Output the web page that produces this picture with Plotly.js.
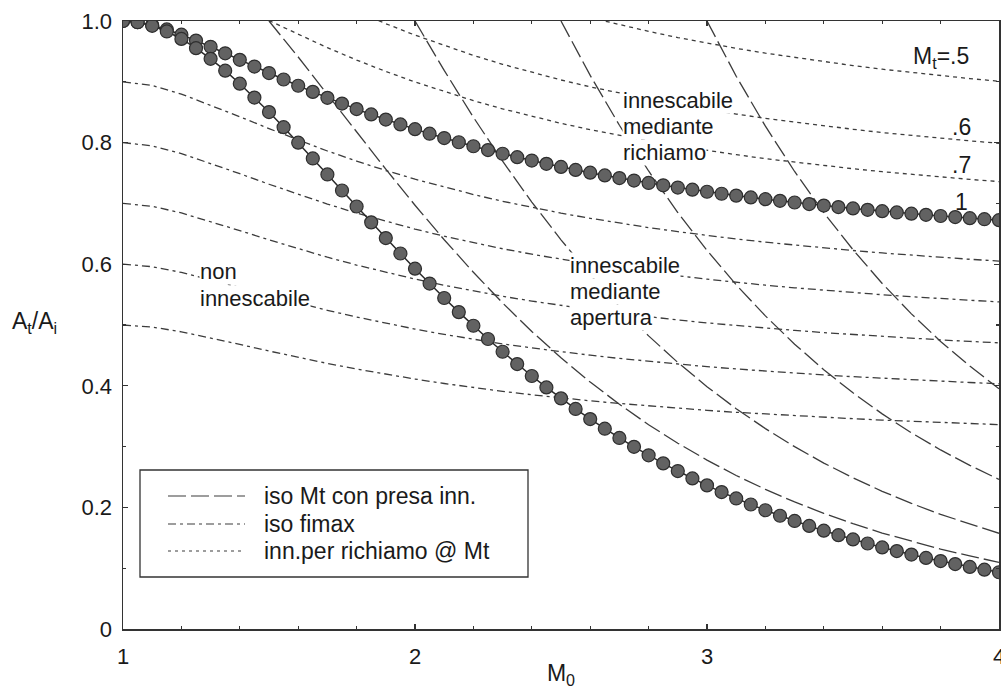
<!DOCTYPE html>
<html><head><meta charset="utf-8">
<script src="https://cdn.plot.ly/plotly-3.0.1.min.js"></script>
<style>html,body{margin:0;padding:0;background:#fff;} #chart{width:1001px;height:689px;}</style>
</head><body><div id="chart"></div>
<script>
// ---------- DATA ----------
// Mach grid for the dotted-marker curves (markers every 0.05)
const M0_fine = [1.00,1.05,1.10,1.15,1.20,1.25,1.30,1.35,1.40,1.45,1.50,1.55,1.60,1.65,1.70,1.75,1.80,1.85,1.90,1.95,
  2.00,2.05,2.10,2.15,2.20,2.25,2.30,2.35,2.40,2.45,2.50,2.55,2.60,2.65,2.70,2.75,2.80,2.85,2.90,2.95,
  3.00,3.05,3.10,3.15,3.20,3.25,3.30,3.35,3.40,3.45,3.50,3.55,3.60,3.65,3.70,3.75,3.80,3.85,3.90,3.95,4.00];
// lower marker curve (isentropic contraction limit)
const limitIsentropic = [1.0000,0.9980,0.9921,0.9828,0.9705,0.9553,0.9378,0.9183,0.8969,0.8741,0.8502,0.8254,0.7999,0.7739,0.7476,0.7212,0.6949,0.6688,0.6430,0.6176,
  0.5926,0.5682,0.5444,0.5212,0.4988,0.4770,0.4560,0.4357,0.4161,0.3973,0.3793,0.3619,0.3453,0.3294,0.3142,0.2996,0.2857,0.2724,0.2598,0.2477,
  0.2362,0.2252,0.2147,0.2048,0.1953,0.1863,0.1777,0.1695,0.1617,0.1543,0.1473,0.1406,0.1342,0.1282,0.1224,0.1169,0.1117,0.1068,0.1021,0.0976,0.0933];
// upper marker curve (Mt = 1, starting by "richiamo")
const limitRichiamoMt1 = [1.0000,0.9981,0.9932,0.9861,0.9775,0.9678,0.9576,0.9469,0.9361,0.9251,0.9144,0.9038,0.8935,0.8834,0.8736,0.8642,0.8551,0.8463,0.8379,0.8299,
  0.8221,0.8146,0.8075,0.8006,0.7940,0.7877,0.7817,0.7760,0.7705,0.7651,0.7600,0.7551,0.7505,0.7460,0.7417,0.7376,0.7336,0.7298,0.7261,0.7226,
  0.7192,0.7159,0.7128,0.7098,0.7069,0.7042,0.7015,0.6989,0.6964,0.6940,0.6917,0.6894,0.6872,0.6851,0.6831,0.6812,0.6793,0.6775,0.6757,0.6740,0.6724];

// Mach grid for the line families (every 0.1)
const M0 = [1.0,1.1,1.2,1.3,1.4,1.5,1.6,1.7,1.8,1.9,2.0,2.1,2.2,2.3,2.4,2.5,2.6,2.7,2.8,2.9,3.0,3.1,3.2,3.3,3.4,3.5,3.6,3.7,3.8,3.9,4.0];

// iso fimax (dash-dot)
const fimax09 = [0.9000,0.8939,0.8798,0.8618,0.8425,0.8230,0.8042,0.7862,0.7696,0.7541,0.7399,0.7268,0.7146,0.7035,0.6935,0.6840,0.6755,0.6675,0.6602,0.6535,0.6473,0.6415,0.6362,0.6314,0.6268,0.6225,0.6185,0.6148,0.6114,0.6081,0.6052];
const fimax08 = [0.8000,0.7946,0.7820,0.7661,0.7489,0.7315,0.7148,0.6989,0.6841,0.6703,0.6577,0.6460,0.6352,0.6254,0.6164,0.6080,0.6004,0.5934,0.5869,0.5809,0.5754,0.5702,0.5655,0.5612,0.5571,0.5534,0.5498,0.5465,0.5434,0.5406,0.5379];
const fimax07 = [0.7000,0.6952,0.6843,0.6703,0.6553,0.6401,0.6255,0.6115,0.5986,0.5865,0.5755,0.5653,0.5558,0.5472,0.5394,0.5320,0.5254,0.5192,0.5135,0.5083,0.5034,0.4990,0.4948,0.4911,0.4875,0.4842,0.4810,0.4782,0.4755,0.4730,0.4707];
const fimax06 = [0.6000,0.5959,0.5865,0.5746,0.5617,0.5486,0.5361,0.5242,0.5131,0.5027,0.4933,0.4845,0.4764,0.4690,0.4623,0.4560,0.4503,0.4450,0.4402,0.4357,0.4315,0.4277,0.4241,0.4209,0.4178,0.4150,0.4123,0.4099,0.4076,0.4054,0.4034];
const fimax05 = [0.5000,0.4966,0.4888,0.4788,0.4681,0.4572,0.4468,0.4368,0.4276,0.4190,0.4111,0.4038,0.3970,0.3909,0.3853,0.3800,0.3753,0.3709,0.3668,0.3631,0.3596,0.3564,0.3535,0.3508,0.3482,0.3459,0.3436,0.3416,0.3397,0.3379,0.3362];

// inn. per richiamo @ Mt (dotted)
const richiamoMt07 = [1.0007,0.9778,0.9561,0.9358,0.9170,0.8997,0.8837,0.8690,0.8555,0.8432,0.8317,0.8213,0.8117,0.8028,0.7946,0.7871,0.7801,0.7736,0.7677,0.7621,0.7570,0.7521,0.7476,0.7434,0.7395,0.7359]; // from M0 = 1.5
const richiamoMt06 = [1.0160,0.9956,0.9768,0.9595,0.9434,0.9288,0.9155,0.9030,0.8917,0.8813,0.8717,0.8628,0.8546,0.8470,0.8399,0.8335,0.8275,0.8219,0.8165,0.8117,0.8071,0.8029,0.7989]; // from M0 = 1.8
const richiamoMt05 = [1.0055,0.9937,0.9829,0.9728,0.9636,0.9550,0.9471,0.9399,0.9330,0.9267,0.9207,0.9152,0.9101,0.9053,0.9009]; // from M0 = 2.6

// iso Mt con presa innescata (long dash)
const isoMt15 = [1.0000,0.9408,0.8793,0.8173,0.7563,0.6970,0.6403,0.5867,0.5363,0.4894,0.4461,0.4061,0.3696,0.3360,0.3056,0.2778,0.2525,0.2297,0.2090,0.1902,0.1733,0.1578,0.1440,0.1314,0.1201,0.1097]; // from 1.5
const isoMt20 = [1.0000,0.9187,0.8417,0.7695,0.7022,0.6401,0.5827,0.5302,0.4821,0.4384,0.3986,0.3623,0.3296,0.2999,0.2729,0.2486,0.2265,0.2066,0.1885,0.1723,0.1574]; // from 2.0
const isoMt25 = [1.0000,0.9105,0.8285,0.7533,0.6850,0.6228,0.5661,0.5150,0.4685,0.4264,0.3884,0.3538,0.3227,0.2945,0.2692,0.2460]; // from 2.5
const isoMt30 = [1.0000,0.9092,0.8270,0.7525,0.6847,0.6238,0.5683,0.5183,0.4730,0.4324,0.3951]; // from 3.0

const xTickVals = [1,2,3,4];
const xTickText = ['1','2','3','4'];
const yTickVals = [0,0.2,0.4,0.6,0.8,1.0];
const yTickText = ['0','0.2','0.4','0.6','0.8','1.0'];

const legendLabels = ['iso Mt con presa inn.','iso fimax','inn.per richiamo @ Mt'];

// ---------- STYLE ----------
const FONT = 'Liberation Sans, Arial, Helvetica, sans-serif';
const INK = '#1a1a1a';
const LINE = '#3c3c3c';
const DASH_LONG = '18px,5px';
const DASH_DOT = '8px,4px,3px,4px';
const DASH_SHORT = '4px,4px';

function lineTrace(x, y, name, dash) {
  return {type:'scatter', mode:'lines', x:x, y:y, name:name, showlegend:false, hoverinfo:'skip',
          line:{color:LINE, width:1.3, dash:dash}};
}

const traces = [
  lineTrace(M0, fimax09, 'iso fimax 0.9', DASH_DOT),
  lineTrace(M0, fimax08, 'iso fimax 0.8', DASH_DOT),
  lineTrace(M0, fimax07, 'iso fimax 0.7', DASH_DOT),
  lineTrace(M0, fimax06, 'iso fimax 0.6', DASH_DOT),
  lineTrace(M0, fimax05, 'iso fimax 0.5', DASH_DOT),
  lineTrace(M0.slice(5), richiamoMt07, 'richiamo Mt=.7', DASH_SHORT),
  lineTrace(M0.slice(8), richiamoMt06, 'richiamo Mt=.6', DASH_SHORT),
  lineTrace(M0.slice(16), richiamoMt05, 'richiamo Mt=.5', DASH_SHORT),
  lineTrace(M0.slice(5), isoMt15, 'iso Mt 1.5', DASH_LONG),
  lineTrace(M0.slice(10), isoMt20, 'iso Mt 2', DASH_LONG),
  lineTrace(M0.slice(15), isoMt25, 'iso Mt 2.5', DASH_LONG),
  lineTrace(M0.slice(20), isoMt30, 'iso Mt 3', DASH_LONG)
];
function markerTrace(y, name) {
  return {type:'scatter', mode:'lines+markers', x:M0_fine, y:y, name:name, showlegend:false, hoverinfo:'skip',
          line:{color:'#2a2a2a', width:1.5},
          marker:{size:13, color:'#626262', line:{color:'#2e2e2e', width:1.2}}};
}
traces.push(markerTrace(limitRichiamoMt1, 'Mt=1 richiamo'));
traces.push(markerTrace(limitIsentropic, 'limite isentropico'));

// pixel helpers for layout placement (plot area: x 123..999, y 21..629)
const PL = 123, PR = 999, PT = 21, PB = 629;
const px = v => (v - PL) / (PR - PL);
const py = v => (PB - v) / (PB - PT);

function txt(text, x, y, anchor, size, bg) {
  return {text:text, xref:'paper', yref:'paper', x:px(x), y:py(y), xanchor:anchor, yanchor:'middle',
          showarrow:false, font:{family:FONT, size:size, color:INK},
          bgcolor: bg ? '#ffffff' : 'rgba(0,0,0,0)', borderpad:0};
}

const annotations = [
  txt('A<sub>t</sub>/A<sub>i</sub>', 11, 322, 'left', 23, false),
  txt('M<sub>t</sub>=.5', 970, 58, 'right', 23, false),
  txt('.6', 972, 127, 'right', 23, false),
  txt('.7', 972, 165, 'right', 23, false),
  txt('1', 969, 202, 'right', 23, false),
  txt('innescabile', 622, 100, 'left', 22, true),
  txt('mediante', 622, 126, 'left', 22, true),
  txt('richiamo', 622, 152, 'left', 22, true),
  txt('innescabile', 569, 265, 'left', 22, true),
  txt('mediante', 569, 291, 'left', 22, true),
  txt('apertura', 569, 317, 'left', 22, true),
  txt('non', 199, 271, 'left', 22, true),
  txt('innescabile', 199, 298, 'left', 22, true)
];

// custom legend box
const legendRows = [496, 524, 551];
const legendDashes = [DASH_LONG, DASH_DOT, '3px,4px'];
const shapes = [
  {type:'rect', xref:'paper', yref:'paper', x0:px(140), x1:px(528), y0:py(577), y1:py(470),
   line:{color:'#333', width:1.3}, fillcolor:'#ffffff', layer:'above'}
];
legendRows.forEach((r, i) => {
  shapes.push({type:'line', xref:'paper', yref:'paper', x0:px(168), x1:px(245), y0:py(r), y1:py(r),
               line:{color:LINE, width:1.2, dash:legendDashes[i]}, layer:'above'});
  annotations.push(txt(legendLabels[i], 263, r, 'left', 23, false));
});

const axisCommon = {
  showgrid:false, zeroline:false, showline:true, linecolor:'#333', linewidth:1.5, mirror:'ticks',
  ticks:'inside', ticklen:5, tickwidth:1.2, tickcolor:'#333',
  tickfont:{family:FONT, size:22, color:INK}, ticklabeloverflow:'allow'
};

const layout = {
  width:1001, height:689,
  margin:{l:PL, r:1001-PR, t:PT, b:689-PB, pad:0},
  paper_bgcolor:'#fff', plot_bgcolor:'#fff',
  font:{family:FONT, color:INK},
  showlegend:false,
  xaxis: Object.assign({}, axisCommon, {
    range:[1,4], tickmode:'array', tickvals:xTickVals, ticktext:xTickText, ticklabelstandoff:7,
    minor:{dtick:0.2, ticks:'inside', ticklen:3, tickcolor:'#333', showgrid:false},
    title:{text:'M<sub>0</sub>', font:{family:FONT, size:23, color:INK}, standoff:7}
  }),
  yaxis: Object.assign({}, axisCommon, {
    range:[0,1], tickmode:'array', tickvals:yTickVals, ticktext:yTickText, ticklabelstandoff:5,
    minor:{dtick:0.1, ticks:'inside', ticklen:3, tickcolor:'#333', showgrid:false}
  }),
  annotations:annotations,
  shapes:shapes
};

Plotly.newPlot('chart', traces, layout, {staticPlot:true, displayModeBar:false});
</script></body></html>
